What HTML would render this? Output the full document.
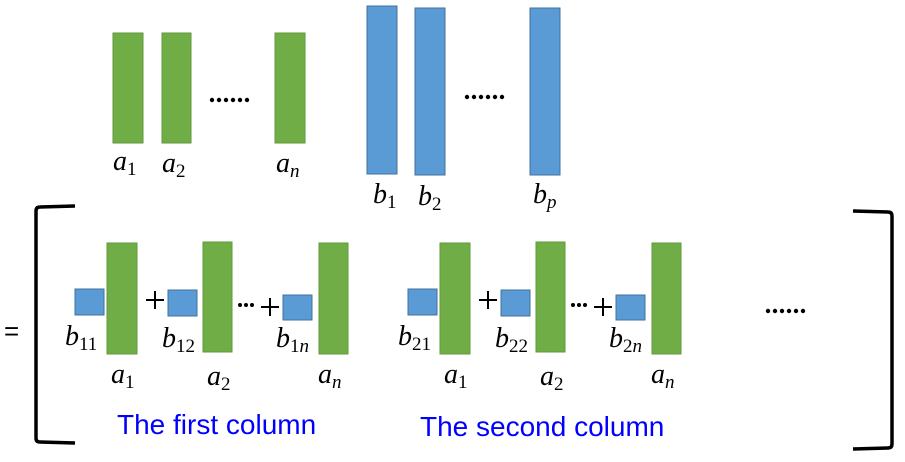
<!DOCTYPE html>
<html><head><meta charset="utf-8"><style>
html,body{margin:0;padding:0;background:#fff;}
svg{display:block;}
.m{font-family:"Liberation Serif",serif;font-style:italic;font-size:28px;fill:#000;}
.s{font-style:normal;font-size:19px;}
.si{font-style:italic;font-size:19px;}
.t{font-family:"Liberation Sans",sans-serif;font-size:28px;fill:#0000ff;}
.g{fill:#70ad47;stroke:#5f9a3a;stroke-width:1;}
.b{fill:#5b9bd5;stroke:#41719c;stroke-width:1;}
.o{font-family:"Liberation Sans",sans-serif;font-size:26px;fill:#000;}
.p{stroke:#000;stroke-width:2;}
</style></head><body>
<svg width="905" height="462" viewBox="0 0 905 462">
<g>
<rect class="g" x="113" y="33" width="30" height="110"/>
<rect class="g" x="162" y="33" width="29" height="110"/>
<rect class="g" x="275" y="33" width="30" height="110"/>
<g fill="#000">
<circle cx="212" cy="100" r="2.2"/><circle cx="219" cy="100" r="2.2"/><circle cx="226" cy="100" r="2.2"/><circle cx="233" cy="100" r="2.2"/><circle cx="240" cy="100" r="2.2"/><circle cx="247" cy="100" r="2.2"/>
</g>
<text class="m" x="113" y="170">a<tspan class="s" dy="5">1</tspan></text>
<text class="m" x="162" y="172">a<tspan class="s" dy="5">2</tspan></text>
<text class="m" x="276" y="172">a<tspan class="si" dy="5">n</tspan></text>
</g>
<g>
<rect class="b" x="367" y="6" width="30" height="168"/>
<rect class="b" x="415" y="8" width="30" height="167"/>
<rect class="b" x="530" y="8" width="30" height="167"/>
<g fill="#000">
<circle cx="467" cy="97" r="2.2"/><circle cx="474" cy="97" r="2.2"/><circle cx="481" cy="97" r="2.2"/><circle cx="488" cy="97" r="2.2"/><circle cx="495" cy="97" r="2.2"/><circle cx="502" cy="97" r="2.2"/>
</g>
<text class="m" x="373" y="203">b<tspan class="s" dy="5">1</tspan></text>
<text class="m" x="418" y="205">b<tspan class="s" dy="5">2</tspan></text>
<text class="m" x="533" y="203">b<tspan class="si" dy="5">p</tspan></text>
</g>
<text class="o" x="4" y="340">=</text>
<path d="M75,206 L40,207 Q36,207 36,211 L36,438 Q36,442 40,442 L75,443" fill="none" stroke="#000" stroke-width="3.5"/>
<path d="M853,211 L888,212 Q892,212 892,216 L892,444 Q892,448 888,448 L853,449" fill="none" stroke="#000" stroke-width="3.5"/>
<g fill="#000">
<circle cx="768" cy="311" r="2.2"/><circle cx="775" cy="311" r="2.2"/><circle cx="782" cy="311" r="2.2"/><circle cx="789" cy="311" r="2.2"/><circle cx="796" cy="311" r="2.2"/><circle cx="803" cy="311" r="2.2"/>
</g>
<g id="col1">
<rect class="b" x="75" y="289" width="29" height="26"/>
<rect class="g" x="107" y="243" width="30" height="111"/>
<path class="p" d="M146,300 H164 M155,291 V309"/>
<rect class="b" x="168" y="290" width="29" height="26"/>
<rect class="g" x="203" y="242" width="29" height="110"/>
<g fill="#000"><circle cx="240" cy="305" r="2"/><circle cx="246" cy="305" r="2"/><circle cx="252" cy="305" r="2"/></g>
<path class="p" d="M261,307 H279 M270,298 V316"/>
<rect class="b" x="283" y="295" width="29" height="25"/>
<rect class="g" x="319" y="243" width="29" height="111"/>
<text class="m" x="65" y="345">b<tspan class="s" dy="5">11</tspan></text>
<text class="m" x="162" y="347">b<tspan class="s" dy="5">12</tspan></text>
<text class="m" x="276" y="347">b<tspan class="s" dy="5">1</tspan><tspan class="si">n</tspan></text>
<text class="m" x="111" y="383">a<tspan class="s" dy="5">1</tspan></text>
<text class="m" x="207" y="385">a<tspan class="s" dy="5">2</tspan></text>
<text class="m" x="318" y="383">a<tspan class="si" dy="5">n</tspan></text>
<text class="t" x="117" y="434">The first column</text>
</g>
<g transform="translate(333,0)">
<rect class="b" x="75" y="289" width="29" height="26"/>
<rect class="g" x="107" y="243" width="30" height="111"/>
<path class="p" d="M146,300 H164 M155,291 V309"/>
<rect class="b" x="168" y="290" width="29" height="26"/>
<rect class="g" x="203" y="242" width="29" height="110"/>
<g fill="#000"><circle cx="240" cy="305" r="2"/><circle cx="246" cy="305" r="2"/><circle cx="252" cy="305" r="2"/></g>
<path class="p" d="M261,307 H279 M270,298 V316"/>
<rect class="b" x="283" y="295" width="29" height="25"/>
<rect class="g" x="319" y="243" width="29" height="111"/>
<text class="m" x="65" y="345">b<tspan class="s" dy="5">21</tspan></text>
<text class="m" x="162" y="347">b<tspan class="s" dy="5">22</tspan></text>
<text class="m" x="276" y="347">b<tspan class="s" dy="5">2</tspan><tspan class="si">n</tspan></text>
<text class="m" x="111" y="383">a<tspan class="s" dy="5">1</tspan></text>
<text class="m" x="207" y="385">a<tspan class="s" dy="5">2</tspan></text>
<text class="m" x="318" y="383">a<tspan class="si" dy="5">n</tspan></text>
<text class="t" x="87" y="436">The second column</text>
</g>
</svg>
</body></html>
